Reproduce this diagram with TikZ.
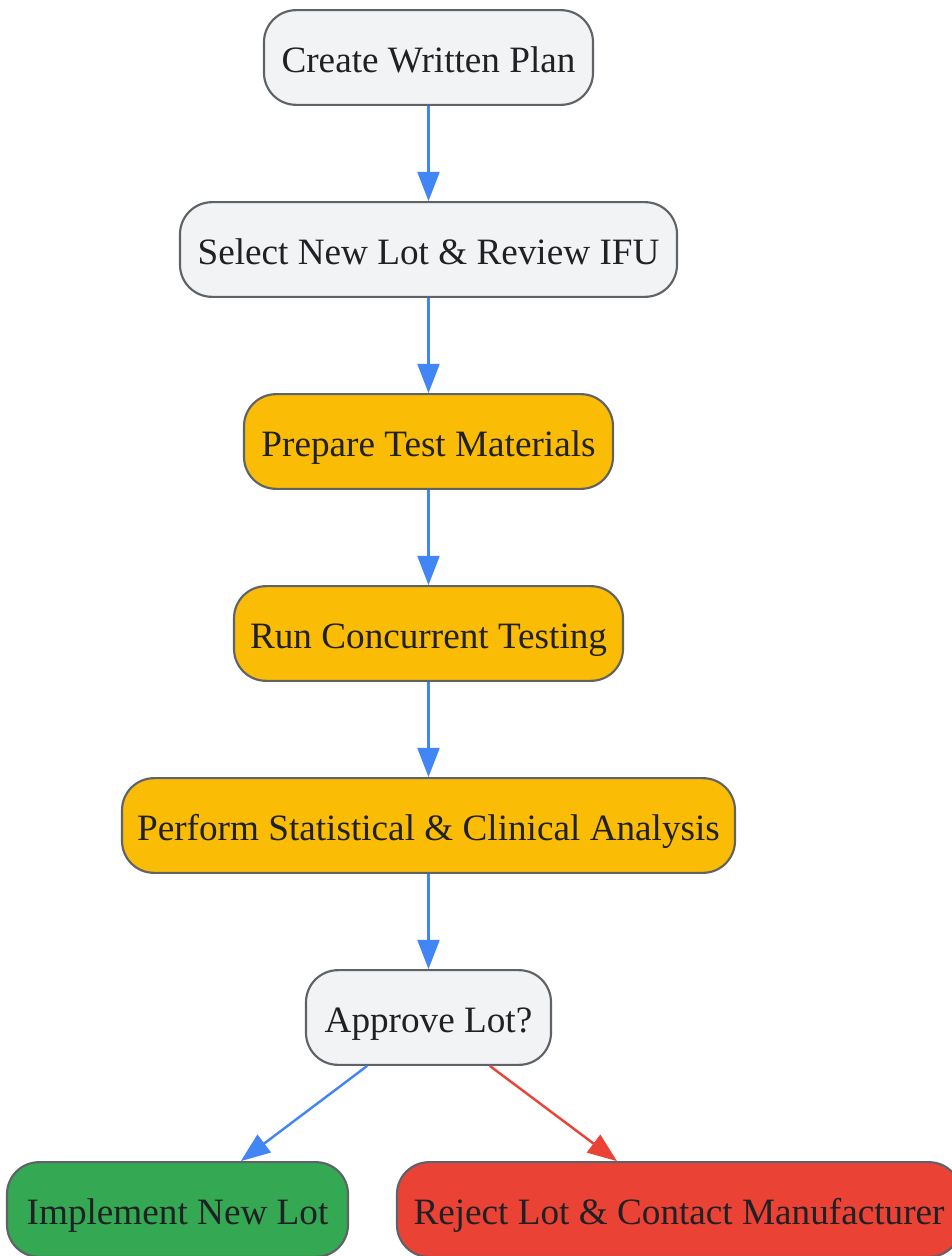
\documentclass[tikz,border=0pt]{standalone}
\usepackage{fontspec}
\setmainfont{Liberation Serif}
\usetikzlibrary{arrows.meta}
\definecolor{gfill}{HTML}{F1F3F4}
\definecolor{gborder}{HTML}{5F6368}
\definecolor{gblue}{HTML}{4285F4}
\definecolor{gred}{HTML}{EA4335}
\definecolor{ggreen}{HTML}{34A853}
\definecolor{gyellow}{HTML}{FBBC05}
\definecolor{gtext}{HTML}{202124}
\begin{document}
\begin{tikzpicture}[x=0.75pt,y=-0.75pt,
  box/.style={draw=gborder,line width=1.6pt,rounded corners=24pt,inner sep=0pt,
    minimum height=71pt,text height=25pt,text depth=3.2pt,text=gtext,
    font=\fontsize{27.9}{32}\selectfont,anchor=center},
  graybox/.style={box,fill=gfill},
  yellowbox/.style={box,fill=gyellow},
  greenbox/.style={box,fill=ggreen},
  redbox/.style={box,fill=gred},
  link/.style={draw=gblue,line width=1.8pt,-{Triangle[length=22pt,width=16.5pt]}},
  redlink/.style={link,draw=gred}
]
\useasboundingbox (0,0) rectangle (952,1256);
\fill[white] (0,0) rectangle (952,1256);
\node[graybox,minimum width=246.75pt] (n1) at (428.5,57.5) {Create Written Plan};
\node[graybox,minimum width=372.75pt] (n2) at (428.5,249.5) {Select New Lot \& Review IFU};
\node[yellowbox,minimum width=276.75pt] (n3) at (428.5,441.5) {Prepare Test Materials};
\node[yellowbox,minimum width=291.75pt] (n4) at (428.5,633.5) {Run Concurrent Testing};
\node[yellowbox,minimum width=459.75pt] (n5) at (428.5,825.5) {Perform Statistical \& Clinical Analysis};
\node[graybox,minimum width=183.75pt] (n6) at (428.5,1017.5) {Approve Lot?};
\node[greenbox,minimum width=255.75pt] (n7) at (177.5,1209.5) {Implement New Lot};
\node[redbox,minimum width=423pt] (n8) at (679,1209.5) {Reject Lot \& Contact Manufacturer};
\draw[link] (n1) -- (n2);
\draw[link] (n2) -- (n3);
\draw[link] (n3) -- (n4);
\draw[link] (n4) -- (n5);
\draw[link] (n5) -- (n6);
\draw[link] ([xshift=-46pt]n6.south) -- ([xshift=47.5pt]n7.north);
\draw[redlink] ([xshift=46pt]n6.south) -- ([xshift=-46.5pt]n8.north);
\end{tikzpicture}
\end{document}
